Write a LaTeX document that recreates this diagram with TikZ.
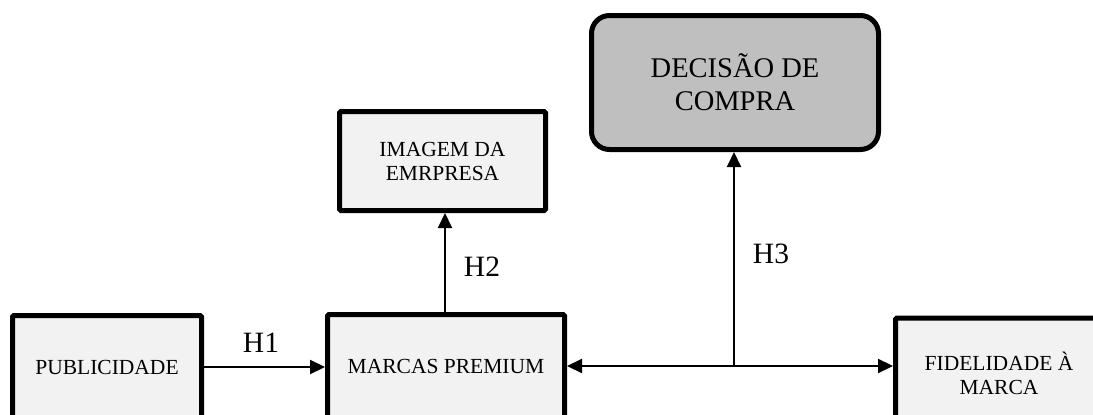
\documentclass[tikz,border=0pt]{standalone}
\usepackage{fontspec}
\setmainfont{Liberation Serif}
\usetikzlibrary{arrows.meta}
\definecolor{lightfill}{HTML}{F2F2F2}
\definecolor{darkfill}{HTML}{BFBFBF}
\begin{document}
\begin{tikzpicture}[x=1pt,y=-1pt,
  box/.style={draw=black, line width=5pt, fill=lightfill, rounded corners=1.5pt,
    align=center, inner sep=0pt, font=\fontsize{21.5}{24}\selectfont},
  decbox/.style={draw=black, line width=5pt, fill=darkfill, rounded corners=18pt,
    align=center, inner sep=0pt, font=\fontsize{28.5}{33}\selectfont},
  conn/.style={line width=2.2pt, -{Triangle[length=15pt,width=14pt]}},
  biconn/.style={line width=2.2pt, {Triangle[length=15pt,width=14pt]}-{Triangle[length=15pt,width=14pt]}},
  plain/.style={line width=2pt},
  hlabel/.style={anchor=base, inner sep=0pt, font=\fontsize{29.5}{33}\selectfont}]
\useasboundingbox (0,0) rectangle (1093,415);
\clip (0,0) rectangle (1093,415);
\node[box, minimum width=189pt, minimum height=103pt] (pub) at (107,367) {PUBLICIDADE};
\node[box, minimum width=237pt, minimum height=103pt] (marcas) at (446,366) {MARCAS PREMIUM};
\node[box, minimum width=206pt, minimum height=99pt] (img) at (442.5,161) {IMAGEM DA\\EMRPRESA};
\node[decbox, minimum width=287pt, minimum height=134pt] (dec) at (735,82.5) {DECISÃO DE\\COMPRA};
\node[box, minimum width=207pt, minimum height=110pt] (fid) at (999,373) {FIDELIDADE À\\MARCA};
\draw[conn] (pub.east) -- (pub.east -| marcas.west);
\draw[plain, -{Triangle[length=15pt,width=14pt]}] ([xshift=-1pt]marcas.north) -- ([xshift=-1pt]marcas.north |- img.south);
\draw[biconn] (marcas.east) -- (marcas.east -| fid.west);
\coordinate (j) at (734,366);
\draw[plain, -{Triangle[length=15pt,width=14pt]}] (j) -- (j |- dec.south);
\node[hlabel] (h1) at (261,352) {H1};
\node[hlabel] (h2) at (482,276) {H2};
\node[hlabel] (h3) at (771,263) {H3};
\end{tikzpicture}
\end{document}
